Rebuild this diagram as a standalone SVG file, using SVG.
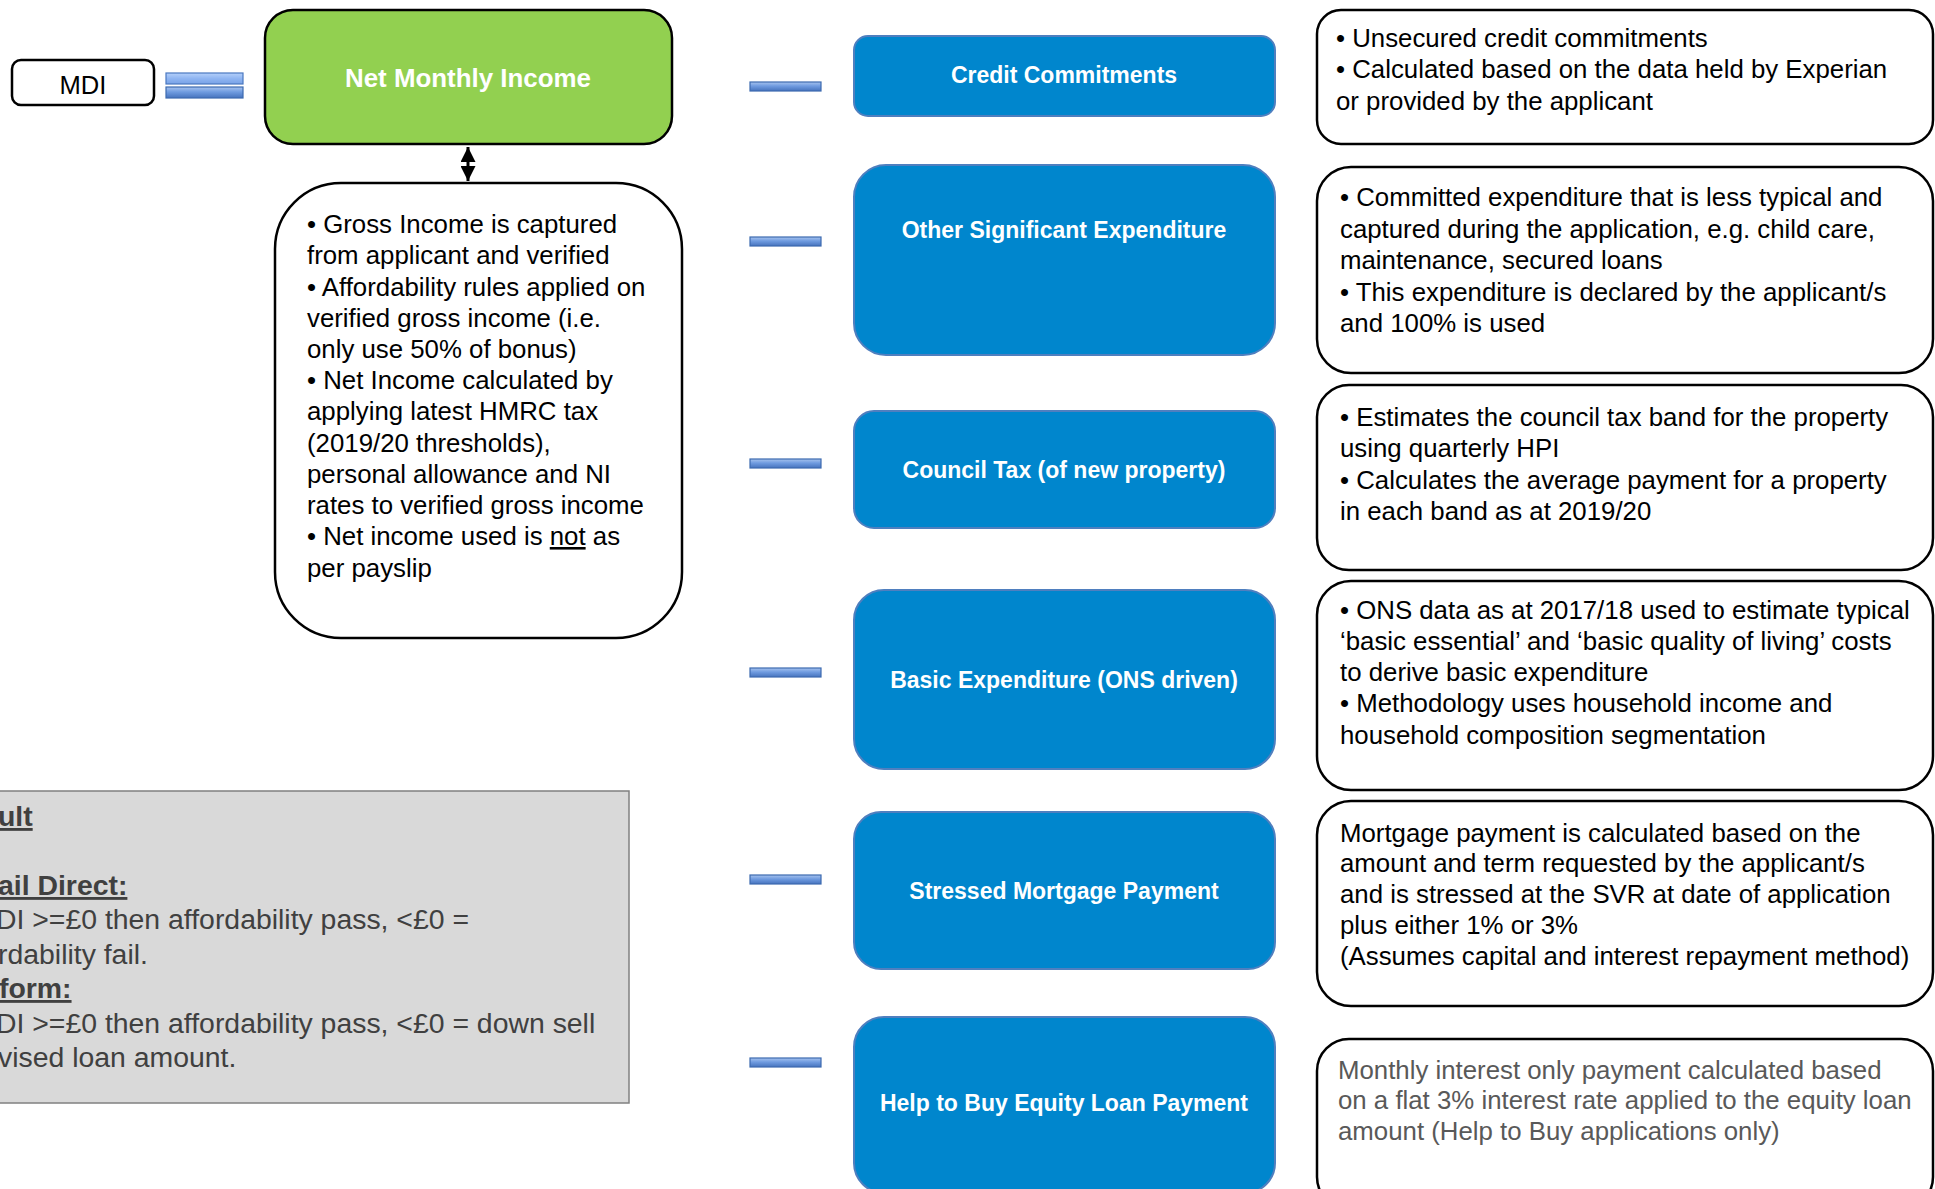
<svg xmlns="http://www.w3.org/2000/svg" width="1935" height="1189" viewBox="0 0 1935 1189">
<style>
text{font-family:"Liberation Sans",Arial,sans-serif}
.out{fill:#fff;stroke:#000;stroke-width:2.5}
.blue{fill:#0086cd;stroke:#4f7fbf;stroke-width:2}
.bt{fill:#fff;font-size:23px;font-weight:bold;text-anchor:middle}
.pt{fill:#000;font-size:25.8px}
.gt{fill:#404040;font-size:28.4px}
.bar{fill:url(#gBar);stroke:#3c6ab0;stroke-width:1.2}
</style>
<defs>
<linearGradient id="gBar" x1="0" y1="0" x2="0" y2="1">
<stop offset="0" stop-color="#a7c3ee"/><stop offset="0.45" stop-color="#6f9be0"/><stop offset="1" stop-color="#4673bd"/>
</linearGradient>
<linearGradient id="gTop" x1="0" y1="0" x2="0" y2="1">
<stop offset="0" stop-color="#b5d0fa"/><stop offset="0.5" stop-color="#8fb5f2"/><stop offset="1" stop-color="#79a2e6"/>
</linearGradient>
<marker id="ah" viewBox="0 0 10 10" refX="10" refY="5" markerWidth="5" markerHeight="5" orient="auto-start-reverse" markerUnits="strokeWidth">
<path d="M0,0 L10,5 L0,10 z" fill="#000"/>
</marker>
</defs>

<g id="connectors">
<rect x="166" y="73" width="77" height="11" fill="url(#gTop)" stroke="#4a78c0" stroke-width="1.2"/>
<rect x="166" y="87" width="77" height="11" class="bar"/>
<line x1="468" y1="147" x2="468" y2="181" stroke="#000" stroke-width="3" marker-start="url(#ah)" marker-end="url(#ah)"/>
<rect x="750" y="82" width="71" height="9" class="bar"/>
<rect x="750" y="237" width="71" height="9" class="bar"/>
<rect x="750" y="459" width="71" height="9" class="bar"/>
<rect x="750" y="668" width="71" height="9" class="bar"/>
<rect x="750" y="875" width="71" height="9" class="bar"/>
<rect x="750" y="1058" width="71" height="9" class="bar"/>
</g>

<g id="mdi">
<rect x="12" y="60" width="142" height="45" rx="9" class="out"/>
<text x="83" y="94" font-size="25.6" text-anchor="middle">MDI</text>
</g>

<g id="net-monthly-income">
<rect x="265" y="10" width="407" height="134" rx="28" fill="#92d050" stroke="#000" stroke-width="2.5"/>
<text x="468" y="87" fill="#fff" font-size="25.9" font-weight="bold" text-anchor="middle">Net Monthly Income</text>
</g>

<g id="gross-income">
<rect x="275" y="183" width="407" height="455" rx="66" class="out"/>
<text class="pt">
<tspan x="307" y="233">• Gross Income is captured</tspan>
<tspan x="307" y="264">from applicant and verified</tspan>
<tspan x="307" y="296">• Affordability rules applied on</tspan>
<tspan x="307" y="327">verified gross income (i.e.</tspan>
<tspan x="307" y="358">only use 50% of bonus)</tspan>
<tspan x="307" y="389">• Net Income calculated by</tspan>
<tspan x="307" y="420">applying latest HMRC tax</tspan>
<tspan x="307" y="452">(2019/20 thresholds),</tspan>
<tspan x="307" y="483">personal allowance and NI</tspan>
<tspan x="307" y="514">rates to verified gross income</tspan>
<tspan x="307" y="545">• Net income used is <tspan text-decoration="underline">not</tspan> as</tspan>
<tspan x="307" y="577">per payslip</tspan>
</text>
</g>

<g id="result">
<rect x="-5" y="791" width="634" height="312" fill="#d9d9d9" stroke="#808080" stroke-width="1.5"/>
<text class="gt">
<tspan x="-2" y="826" font-weight="bold" text-decoration="underline">ult</tspan>
<tspan x="-2" y="895" font-weight="bold" text-decoration="underline">ail Direct:</tspan>
<tspan x="-4" y="929">DI &gt;=£0 then affordability pass, &lt;£0 =</tspan>
<tspan x="-2" y="964">rdability fail.</tspan>
<tspan x="-1" y="998" font-weight="bold" text-decoration="underline">form:</tspan>
<tspan x="-4" y="1033">DI &gt;=£0 then affordability pass, &lt;£0 = down sell</tspan>
<tspan x="-2" y="1067">vised loan amount.</tspan>
</text>
</g>

<g id="credit-commitments">
<rect x="854" y="36" width="421" height="80" rx="14" class="blue"/>
<text x="1064" y="83" class="bt">Credit Commitments</text>
</g>
<g id="other-significant-expenditure">
<rect x="854" y="165" width="421" height="190" rx="32" class="blue"/>
<text x="1064" y="238" class="bt">Other Significant Expenditure</text>
</g>
<g id="council-tax">
<rect x="854" y="411" width="421" height="117" rx="20" class="blue"/>
<text x="1064" y="478" class="bt">Council Tax (of new property)</text>
</g>
<g id="basic-expenditure">
<rect x="854" y="590" width="421" height="179" rx="30" class="blue"/>
<text x="1064" y="688" class="bt">Basic Expenditure (ONS driven)</text>
</g>
<g id="stressed-mortgage-payment">
<rect x="854" y="812" width="421" height="157" rx="27" class="blue"/>
<text x="1064" y="899" class="bt">Stressed Mortgage Payment</text>
</g>
<g id="help-to-buy">
<rect x="854" y="1017" width="421" height="176" rx="30" class="blue"/>
<text x="1064" y="1111" class="bt">Help to Buy Equity Loan Payment</text>
</g>

<g id="note-credit">
<rect x="1317" y="10" width="616" height="134" rx="24" class="out"/>
<text class="pt">
<tspan x="1336" y="47">• Unsecured credit commitments</tspan>
<tspan x="1336" y="78">• Calculated based on the data held by Experian</tspan>
<tspan x="1336" y="110">or provided by the applicant</tspan>
</text>
</g>
<g id="note-other">
<rect x="1317" y="167" width="616" height="206" rx="34" class="out"/>
<text class="pt">
<tspan x="1340" y="206">• Committed expenditure that is less typical and</tspan>
<tspan x="1340" y="238">captured during the application, e.g. child care,</tspan>
<tspan x="1340" y="269">maintenance, secured loans</tspan>
<tspan x="1340" y="301">• This expenditure is declared by the applicant/s</tspan>
<tspan x="1340" y="332">and 100% is used</tspan>
</text>
</g>
<g id="note-council">
<rect x="1317" y="385" width="616" height="185" rx="32" class="out"/>
<text class="pt">
<tspan x="1340" y="426">• Estimates the council tax band for the property</tspan>
<tspan x="1340" y="457">using quarterly HPI</tspan>
<tspan x="1340" y="489">• Calculates the average payment for a property</tspan>
<tspan x="1340" y="520">in each band as at 2019/20</tspan>
</text>
</g>
<g id="note-basic">
<rect x="1317" y="581" width="616" height="209" rx="34" class="out"/>
<text class="pt">
<tspan x="1340" y="619">• ONS data as at 2017/18 used to estimate typical</tspan>
<tspan x="1340" y="650">‘basic essential’ and ‘basic quality of living’ costs</tspan>
<tspan x="1340" y="681">to derive basic expenditure</tspan>
<tspan x="1340" y="712">• Methodology uses household income and</tspan>
<tspan x="1340" y="744">household composition segmentation</tspan>
</text>
</g>
<g id="note-mortgage">
<rect x="1317" y="801" width="616" height="205" rx="34" class="out"/>
<text class="pt">
<tspan x="1340" y="842">Mortgage payment is calculated based on the</tspan>
<tspan x="1340" y="872">amount and term requested by the applicant/s</tspan>
<tspan x="1340" y="903">and is stressed at the SVR at date of application</tspan>
<tspan x="1340" y="934">plus either 1% or 3%</tspan>
<tspan x="1340" y="965">(Assumes capital and interest repayment method)</tspan>
</text>
</g>
<g id="note-help-to-buy">
<rect x="1317" y="1039" width="616" height="170" rx="32" class="out"/>
<text class="pt" fill="#595959" style="fill:#595959">
<tspan x="1338" y="1079">Monthly interest only payment calculated based</tspan>
<tspan x="1338" y="1109">on a flat 3% interest rate applied to the equity loan</tspan>
<tspan x="1338" y="1140">amount (Help to Buy applications only)</tspan>
</text>
</g>
</svg>
